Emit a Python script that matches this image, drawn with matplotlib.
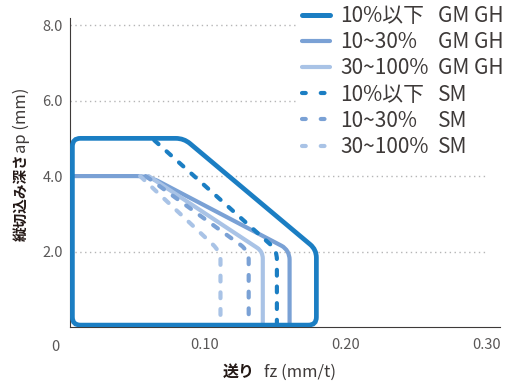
import matplotlib
matplotlib.use('Agg')
import matplotlib.pyplot as plt
from matplotlib.path import Path
from matplotlib.patches import PathPatch, Rectangle
from matplotlib.lines import Line2D
import numpy as np

plt.rcParams['font.family'] = ['Noto Sans CJK JP', 'DejaVu Sans']

# outlines: (fz, ap)
gm_low_fz = [0.006, 0.006, 0.085, 0.179, 0.179]
gm_low_ap = [0.05, 5.0, 5.0, 2.05, 0.05]
gm_mid_fz = [0.006, 0.060, 0.157, 0.160, 0.160]
gm_mid_ap = [4.0, 4.0, 2.10, 1.9, 0.05]
gm_high_fz = [0.060, 0.139, 0.141, 0.141]
gm_high_ap = [4.0, 2.05, 1.9, 0.05]
sm_low_fz = [0.064, 0.149, 0.151, 0.151]
sm_low_ap = [4.95, 2.10, 1.9, 0.1]
sm_mid_fz = [0.058, 0.128, 0.131, 0.131]
sm_mid_ap = [4.0, 2.10, 1.9, 0.1]
sm_high_fz = [0.054, 0.108, 0.111, 0.111]
sm_high_ap = [4.0, 2.10, 1.9, 0.1]

ratio_labels = ['10%以下', '10~30%', '30~100%', '10%以下', '10~30%', '30~100%']
grade_labels = ['GM GH', 'GM GH', 'GM GH', 'SM', 'SM', 'SM']
x_ticks = [0.10, 0.20, 0.30]
x_tick_labels = ['0.10', '0.20', '0.30']
y_ticks = [2.0, 4.0, 6.0, 8.0]

dark = '#1b7ec3'
mid = '#7aa1d5'
light = '#a9c3e6'
grey = '#595757'
ink = '#231815'


def rounded_path(xs, ys, ax, r=7, closed=False):
    # round the corners in pixel space, then back to data
    pts = ax.transData.transform(np.column_stack([xs, ys]))
    n = len(pts)
    verts, codes = [], []
    for k in range(n):
        p = pts[k]
        if not closed and (k == 0 or k == n - 1):
            verts.append(p)
            codes.append(Path.MOVETO if k == 0 else Path.LINETO)
            continue
        a = pts[k - 1]
        b = pts[(k + 1) % n]
        da = a - p
        db = b - p
        la, lb = np.hypot(*da), np.hypot(*db)
        rr = min(r, la / 2, lb / 2)
        p1 = p + da / la * rr
        p2 = p + db / lb * rr
        verts += [p1, p, p2]
        codes += [Path.MOVETO if (closed and k == 0) else Path.LINETO,
                  Path.CURVE3, Path.CURVE3]
    if closed:
        verts.append(verts[0])
        codes.append(Path.CLOSEPOLY)
    inv = ax.transData.inverted()
    return Path(inv.transform(np.array(verts)), codes)


W, H = 507, 388
fig = plt.figure(figsize=(W / 100, H / 100), dpi=100)
ax = fig.add_axes([70 / W, 61 / H, 430 / W, 309 / H])
ax.set_xlim(0.0043, 0.3092)
ax.set_ylim(0, 8.19)

for spine in ['top', 'right']:
    ax.spines[spine].set_visible(False)
for spine in ['left', 'bottom']:
    ax.spines[spine].set_color('#3e3a39')
    ax.spines[spine].set_linewidth(0.8)

ax.hlines(y_ticks, 0.0043, 0.30, colors='#b5b5b6', linestyles=(0, (1, 2.5)),
          linewidth=1.0, zorder=0)

ax.set_xticks(x_ticks)
ax.set_xticklabels(x_tick_labels)
ax.set_yticks(y_ticks)
ax.set_yticklabels(['%.1f' % v for v in y_ticks])
ax.tick_params(length=0, labelsize=10.5, labelcolor=grey)
ax.tick_params(axis='x', pad=8)
ax.tick_params(axis='y', pad=5)
ax.text(-0.009, -0.35, '0', fontsize=10.5, color=grey, ha='left', va='top')

lw_big = 3.4
lw = 3.0
dash = (0, (1.4, 2.6))

ax.add_patch(PathPatch(rounded_path(gm_low_fz, gm_low_ap, ax, r=8, closed=True),
                       facecolor='none', edgecolor=dark, lw=lw_big, zorder=5))
ax.add_patch(PathPatch(rounded_path(gm_mid_fz, gm_mid_ap, ax, r=12),
                       facecolor='none', edgecolor=mid, lw=lw, capstyle='round', zorder=3))
ax.add_patch(PathPatch(rounded_path(gm_high_fz, gm_high_ap, ax, r=8),
                       facecolor='none', edgecolor=light, lw=lw, capstyle='round', zorder=3))
for fz, ap, c in [(sm_low_fz, sm_low_ap, dark), (sm_mid_fz, sm_mid_ap, mid),
                  (sm_high_fz, sm_high_ap, light)]:
    ax.add_patch(PathPatch(rounded_path(fz, ap, ax, r=6), facecolor='none',
                           edgecolor=c, lw=lw, linestyle=dash, capstyle='round', zorder=4))

# white panel behind the legend (hides the grid there)
fig.patches.append(Rectangle((297 / W, 1 - 160 / H), 210 / W, 160 / H,
                             transform=fig.transFigure, facecolor='white',
                             edgecolor='none', zorder=2))

leg_dash = (0, (0.9, 3.6))
handles = [
    Line2D([], [], color=dark, lw=3.6, solid_capstyle='round'),
    Line2D([], [], color=mid, lw=lw, solid_capstyle='round'),
    Line2D([], [], color=light, lw=lw, solid_capstyle='round'),
    Line2D([], [], color=dark, lw=lw, linestyle=leg_dash, dash_capstyle='round'),
    Line2D([], [], color=mid, lw=lw, linestyle=leg_dash, dash_capstyle='round'),
    Line2D([], [], color=light, lw=lw, linestyle=leg_dash, dash_capstyle='round'),
]
leg = fig.legend(handles, ratio_labels, loc='upper left',
                 bbox_to_anchor=(300 / W, 1 - 3 / H),
                 fontsize=15, frameon=False, handlelength=1.35, handletextpad=0.5,
                 labelspacing=0.2, borderaxespad=0, borderpad=0.1)
leg.set_zorder(6)
for t in leg.get_texts():
    t.set_color('#3e3a39')

fig.canvas.draw()
inv = fig.transFigure.inverted()
for t, g in zip(leg.get_texts(), grade_labels):
    bb = t.get_window_extent()
    x0, y0 = inv.transform((438, bb.y0))
    fig.text(x0, y0, g, fontsize=15, color='#3e3a39', ha='left', va='bottom', zorder=6)

# axis titles: Japanese part bold, units plain
fig.text(21 / W, 1 - 197 / H, '縦切込み深さ', rotation=90, fontsize=10.5, fontweight='bold',
         color=ink, ha='center', va='center')
fig.text(21 / W, 1 - 120 / H, 'ap (mm)', rotation=90, fontsize=12,
         color='#3e3a39', ha='center', va='center')
fig.text(239 / W, 1 - 372 / H, '送り', fontsize=11.5, fontweight='bold',
         color=ink, ha='center', va='center')
fig.text(300 / W, 1 - 372 / H, 'fz (mm/t)', fontsize=12,
         color='#3e3a39', ha='center', va='center')

fig.savefig('out.png', dpi=100)
